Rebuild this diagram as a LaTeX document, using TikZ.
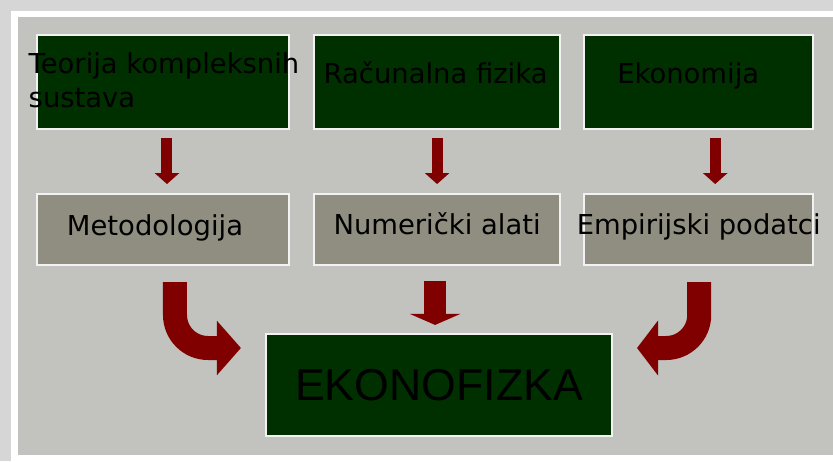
\documentclass[tikz,border=0pt]{standalone}
\usepackage{fontspec}
\setmainfont{DejaVu Sans}
\newfontfamily\titlefont{Liberation Sans}
\usepackage{tikz}
\usetikzlibrary{calc, positioning, arrows.meta}

\definecolor{boxgreen}{RGB}{0,48,0}
\definecolor{boxgray}{RGB}{143,142,128}
\definecolor{slidegray}{RGB}{194,194,190}
\definecolor{framegray}{RGB}{214,214,214}
\definecolor{arrowred}{RGB}{128,0,0}

\tikzset{
    topbox/.style={draw=white!90!gray, line width=0.6pt, fill=boxgreen, minimum height=0.94cm, inner sep=0pt},
    midbox/.style={draw=white!90!gray, line width=0.6pt, fill=boxgray, minimum height=0.71cm, inner sep=0pt},
    lab/.style={font=\fontsize{7.8}{9.6}\selectfont, text=black, inner sep=0pt},
    smallarrow/.style={draw=arrowred, line width=0.11cm, -{Triangle[width=0.24cm,length=0.11cm]}},
    bigarrow/.style={draw=arrowred, line width=0.24cm, rounded corners=0.33cm}
}

\begin{document}
\begin{tikzpicture}

    \useasboundingbox (0,0) rectangle (8.33,4.61);

    % frame and slide
    \fill[framegray] (0,0) rectangle (8.33,4.61);
    \fill[white] (0.11,0) rectangle (8.33,4.50);
    \fill[slidegray] (0.18,0.06) rectangle (8.33,4.44);

    % top row
    \node[topbox, minimum width=2.52cm] (teorija) at (1.63,3.79) {};
    \node[topbox, minimum width=2.46cm, right=0.23cm of teorija] (racun) {};
    \node[topbox, minimum width=2.29cm, right=0.22cm of racun] (ekonom) {};

    % middle row
    \node[midbox, minimum width=2.52cm, below=0.63cm of teorija] (metod) {};
    \node[midbox, minimum width=2.46cm, below=0.63cm of racun] (numer) {};
    \node[midbox, minimum width=2.29cm, below=0.63cm of ekonom] (empir) {};

    % result
    \node[topbox, minimum width=3.46cm, minimum height=1.02cm] (ekonofiz) at (4.39,0.76) {};

    % labels
    \node[lab, align=left] (teorija-t) at ([shift={(0.01,0.02)}]teorija.center) {Teorija kompleksnih\\sustava};
    \node[lab, anchor=base] (racun-t) at ([shift={(-0.015,-0.01)}]racun.center) {Računalna fizika};
    \node[lab, anchor=base] (ekonom-t) at ([shift={(-0.105,-0.01)}]ekonom.center) {Ekonomija};
    \node[lab, anchor=base] (metod-t) at ([shift={(-0.08,-0.055)}]metod.center) {Metodologija};
    \node[lab, anchor=base] (numer-t) at ([yshift=-0.045cm]numer.center) {Numerički alati};
    \node[lab, anchor=base] (empir-t) at ([yshift=-0.045cm]empir.center) {Empirijski podatci};
    \node[anchor=base, inner sep=0pt, font=\titlefont\fontsize{12.7}{15}\selectfont] (ekonofiz-t)
        at ([yshift=-0.15cm]ekonofiz.center) {EKONOFIZKA};

    %down arrows
    \foreach \a/\b/\dx in {teorija/metod/0.04, racun/numer/0, ekonom/empir/0.165}
        \draw[smallarrow, shorten <=0.08cm, shorten >=0.09cm] ([xshift=\dx cm]\a.south) -- ([xshift=\dx cm]\b.north);

    %middle arrow
    \draw[smallarrow, line width=0.22cm, -{Triangle[width=0.5cm,length=0.11cm]}, shorten <=0.15cm, shorten >=0.08cm]
        ([xshift=-0.02cm]numer.south) -- ([xshift=-0.02cm]numer.south |- ekonofiz.north);

    %bent arrows
    \draw[bigarrow, -{Triangle[width=0.53cm,length=0.24cm]}, shorten <=0.16cm]
        ([xshift=0.12cm]metod.south) |- ([shift={(-0.24,0.37)}]ekonofiz.west);
    \draw[bigarrow, -{Triangle[width=0.54cm,length=0.21cm]}, shorten <=0.16cm]
        ([xshift=0.005cm]empir.south) |- ([shift={(0.24,0.37)}]ekonofiz.east);

\end{tikzpicture}
\end{document}
